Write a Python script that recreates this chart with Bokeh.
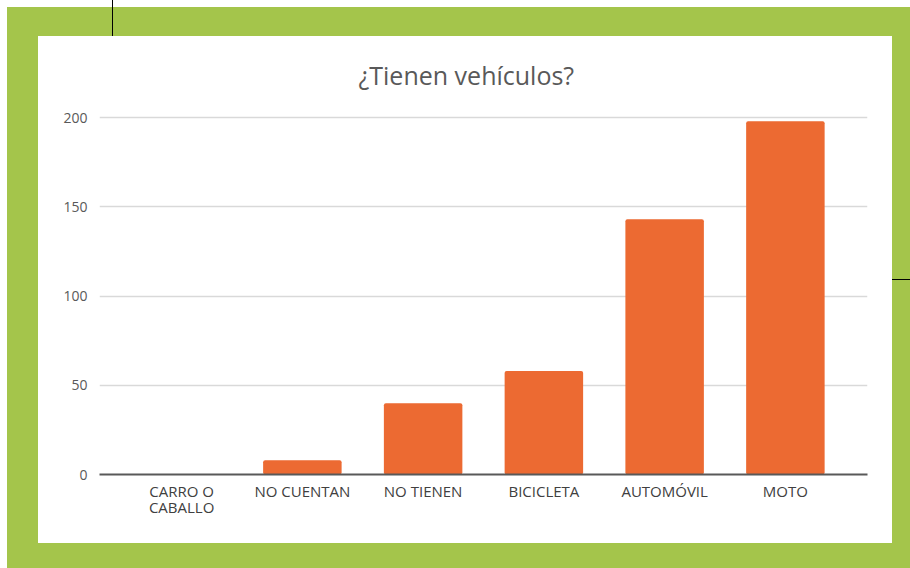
from bokeh.plotting import figure
from bokeh.layouts import column
from bokeh.models import FactorRange, Range1d, FixedTicker, ColumnDataSource
from bokeh.embed import file_html
from bokeh.resources import INLINE

# data
categories = ["CARRO O\nCABALLO", "NO CUENTAN", "NO TIENEN", "BICICLETA", "AUTOMÓVIL", "MOTO"]
counts = [0, 8, 40, 58, 143, 198]
y_ticks = [0, 50, 100, 150, 200]
title_text = "¿Tienen vehículos?"

GREEN = "#A4C54B"
ORANGE = "#EC6A32"
FONT = "Open Sans"

src = ColumnDataSource(dict(cat=categories, val=counts))

p = figure(
    width=854, height=507,
    x_range=FactorRange(factors=categories, range_padding=0.06),
    y_range=Range1d(0, 204),
    output_backend="svg", toolbar_location=None,
    min_border_left=61, min_border_right=25, min_border_top=74, min_border_bottom=69,
    styles={"background-color": "white"},
)
p.border_fill_color = "white"
p.background_fill_color = "white"
p.outline_line_color = None

p.vbar(x="cat", top="val", width=0.65, bottom=0, source=src,
       fill_color=ORANGE, line_color=None, border_radius=2)

p.title.text = title_text
p.title.text_font = FONT
p.title.text_font_size = "25px"
p.title.text_font_style = "normal"
p.title.text_color = "#595959"
p.title.align = "left"
p.title.offset = 259
p.title.standoff = 37

p.xgrid.grid_line_color = None
p.ygrid.grid_line_color = "#D9D9D9"
p.ygrid.grid_line_width = 1.5
p.yaxis.ticker = FixedTicker(ticks=y_ticks)

p.yaxis.axis_line_color = None
p.yaxis.major_tick_line_color = None
p.yaxis.minor_tick_line_color = None
p.yaxis.major_label_text_font = FONT
p.yaxis.major_label_text_font_size = "14px"
p.yaxis.major_label_text_color = "#595959"
p.yaxis.major_label_standoff = 6

p.xaxis.axis_line_color = "#595959"
p.xaxis.axis_line_width = 2
p.xaxis.major_tick_line_color = None
p.xaxis.minor_tick_line_color = None
p.xaxis.major_label_text_font = FONT
p.xaxis.major_label_text_font_size = "15px"
p.xaxis.major_label_text_color = "#404040"
p.xaxis.major_label_text_line_height = 0.83
p.xaxis.major_label_standoff = 0

# green frame around the white card
card = column(p, styles={"background-color": GREEN,
                         "padding": "29px 18px 25px 31px"})

# outer white strip with the two thin black scan marks
marks_css = """
:host { position: relative; }
:host::before { content: ""; position: absolute; left: 112px; top: 0px;
                width: 1px; height: 36px; background: #000; z-index: 10; }
:host::after { content: ""; position: absolute; left: 892px; top: 279px;
               width: 18px; height: 1px; background: #000; z-index: 10; }
"""
page = column(card, styles={"background-color": "white",
                            "padding": "7px 0px 0px 7px"},
              stylesheets=[marks_css])

open("out.html", "w").write(file_html(page, INLINE))
